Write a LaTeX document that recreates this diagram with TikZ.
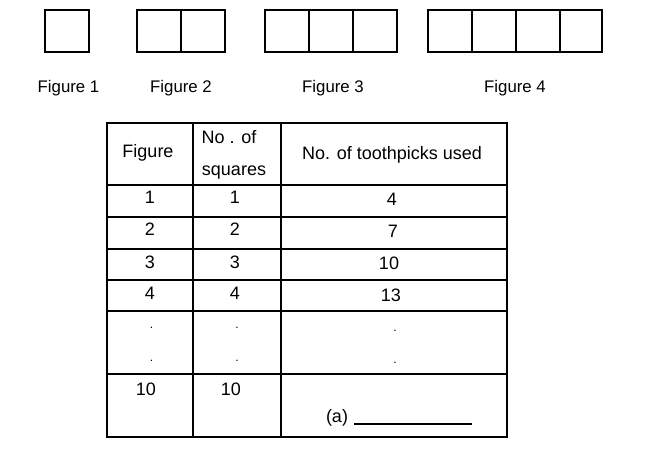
\documentclass[tikz,border=0pt]{standalone}
\usepackage{fontspec}
\setmainfont{Liberation Sans}
\begin{document}
\begin{tikzpicture}[x=0.75pt,y=-0.75pt,
  sq/.style={line width=0.9pt},
  div/.style={line width=1.3pt},
  tbl/.style={line width=0.8pt},
  txt/.style={font=\fontsize{12.6pt}{14pt}\selectfont, inner sep=0pt, text height=9pt, text depth=0pt, anchor=center},
  ttxt/.style={font=\fontsize{13.5pt}{15pt}\selectfont, inner sep=0pt, text height=9.7pt, text depth=0pt, anchor=center},
  dot/.style={font=\fontsize{9pt}{10pt}\selectfont, inner sep=0pt, anchor=center}]
\useasboundingbox (0,0) rectangle (647,459);
% Figure 1
\draw[sq] (45,10) rectangle (89,52);
% Figure 2
\draw[sq] (137,10) rectangle (225,52);
\draw[div] (181,10) -- (181,52);
% Figure 3
\draw[sq] (265,10) rectangle (397,52);
\draw[div] (309,10) -- (309,52);
\draw[div] (353,10) -- (353,52);
% Figure 4
\draw[sq] (428,10) rectangle (602,52);
\draw[div] (472,10) -- (472,52);
\draw[div] (516,10) -- (516,52);
\draw[div] (560,10) -- (560,52);
% labels
\node[txt] (f1) at (68.5,86.5) {Figure 1};
\node[txt] (f2) at (181,86.5) {Figure 2};
\node[txt] (f3) at (333,86.5) {Figure 3};
\node[txt] (f4) at (515,86.5) {Figure 4};
% table
\draw[tbl] (107,123) rectangle (507,437);
\draw[tbl] (193,123) -- (193,437);
\draw[tbl] (281,123) -- (281,437);
\foreach \yy in {185,217,249,280,311,374} \draw[tbl] (107,\yy) -- (507,\yy);
% header
\node[ttxt] (h1) at (148,151) {Figure};
\node[ttxt] (h2a) at (229,137) {No . of};
\node[ttxt] (h2b) at (234,169) {squares};
\node[ttxt] (h3) at (392,153) {No. of toothpicks used};
% rows
\node[ttxt] (r1a) at (150,197) {1};
\node[ttxt] (r1b) at (235,197) {1};
\node[ttxt] (r1c) at (392,199) {4};
\node[ttxt] (r2a) at (150,229) {2};
\node[ttxt] (r2b) at (235,229) {2};
\node[ttxt] (r2c) at (393,231) {7};
\node[ttxt] (r3a) at (150,262) {3};
\node[ttxt] (r3b) at (235,262) {3};
\node[ttxt] (r3c) at (389,263) {10};
\node[ttxt] (r4a) at (150,293) {4};
\node[ttxt] (r4b) at (235,293) {4};
\node[ttxt] (r4c) at (391,295) {13};
% dots
\node[dot] (d1a) at (151.5,328) {.};
\node[dot] (d1b) at (237,328) {.};
\node[dot] (d1c) at (395,331) {.};
\node[dot] (d2a) at (151.5,361) {.};
\node[dot] (d2b) at (237,361) {.};
\node[dot] (d2c) at (395,363) {.};
% last row
\node[ttxt] (r10a) at (146,389) {10};
\node[ttxt] (r10b) at (231,389) {10};
\node[ttxt] (qa) at (337,416) {(a)};
\coordinate (u1) at (354,424);
\coordinate (u2) at (472,424);
\draw[line width=0.8pt] (u1) -- (u2);
\end{tikzpicture}
\end{document}
